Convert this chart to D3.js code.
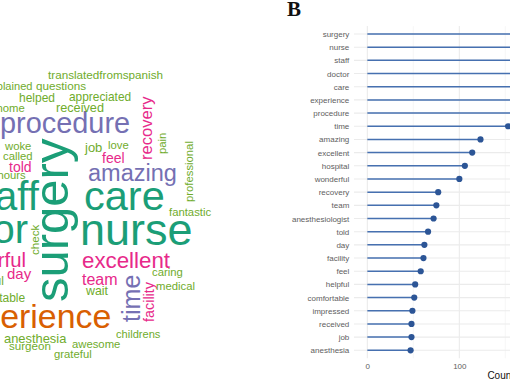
<!DOCTYPE html>
<html>
<head>
<meta charset="utf-8">
<script src="https://cdn.jsdelivr.net/npm/d3@7/dist/d3.min.js"></script>
<style>
  html, body { margin: 0; padding: 0; background: #fff; }
  svg { display: block; }
</style>
</head>
<body>
<svg id="chart" width="510" height="382"></svg>
<script>
// ---------------- DATA ----------------
// Panel B: lollipop chart
const chartWords = ["surgery","nurse","staff","doctor","care","experience","procedure","time",
  "amazing","excellent","hospital","wonderful","recovery","team","anesthesiologist","told",
  "day","facility","feel","helpful","comfortable","impressed","received","job","anesthesia"];
const chartCounts = [290,265,243,228,214,186,172,153,
  123,114,106,100,77,75,72,66,
  62,61,58,52,51,49,48,48,47];
const xTicks = [0, 100, 200];
const xMinorTicks = [50, 150, 250];
const panelLabel = "B";
const xTitle = "Count";

// Panel A: word cloud (words and their frequencies)
const cloudWords = ["surgery","nurse","care","staff","doctor","experience","procedure","time",
  "amazing","excellent","wonderful","recovery","team","day","facility","told","feel","job",
  "anesthesia","received","wait","helpful","comfortable","appreciated","helped",
  "translatedfromspanish","questions","explained","home","woke","called","hours","love",
  "pain","professional","check","fantastic","caring","medical","childrens","surgeon",
  "awesome","grateful"];
const cloudFreq = [300,272,248,237,237,195,160,133,
  122,114,100,74,70,63,59,56,56,49,
  48,47,45,42,42,41,42,
  40,40,36,37,37,37,37,37,
  37,37,39,37,37,37,36,39,
  37,37];

// ---------------- LAYOUT (word placement: baseline x, baseline y, rotation) ----------------
const cloudPlace = [
  [68,302,-90],[80,245,0],[84,210,0],[-36,210,0],[-83,243,0],[-54.5,328,0],[0,133,0],[140,322,-90],
  [88,181,0],[82,268,0],[-62,267,0],[152,160,-90],[82,285,0],[7,279,0],[153.5,322,-90],[9,172,0],[102,163,0],[85,152,0],
  [4,343,0],[56,112,0],[86,295,0],[-31.5,285,0],[-37.5,302,0],[69,101,0],[19,102,0],
  [48,79,0],[36,90,0],[-15,90,0],[-3.5,112,0],[5,150,0],[3,160,0],[-2.5,179,0],[108,149,0],
  [166,154,-90],[192.5,202,-90],[39,255,-90],[169,216,0],[152,276,0],[156,290,0],[116,338,0],[9,350,0],
  [72,348,0],[54,357.5,0]
];

const svg = d3.select("#chart");
svg.append("rect").attr("width", 510).attr("height", 382).attr("fill", "#fff");

// ---------------- WORD CLOUD ----------------
const fontScale = d3.scaleLinear()
  .domain([35, d3.max(cloudFreq)])
  .range([11, 49]);
const colorScale = d3.scaleThreshold()
  .domain([52, 118, 180, 220])
  .range(["#6fac2c", "#E7298A", "#7570B3", "#D95F02", "#1B9E77"]);

const cloudData = cloudWords.map((w, i) => ({ word: w, freq: cloudFreq[i], place: cloudPlace[i] }));
const cloud = svg.append("g").attr("class", "cloud");
cloud.selectAll("text")
  .data(cloudData)
  .join("text")
  .attr("transform", d => `translate(${d.place[0]},${d.place[1]}) rotate(${d.place[2]})`)
  .attr("font-family", "'Liberation Sans', Arial, sans-serif")
  .attr("font-size", d => fontScale(d.freq).toFixed(1) + "px")
  .attr("fill", d => colorScale(d.freq))
  .text(d => d.word);

// ---------------- LOLLIPOP ----------------
const panelLeft = 354, pxPerUnit = 0.92;
const maxC = d3.max(chartCounts);
const pad = 0.05 * maxC;
const x = d3.scaleLinear()
  .domain([-pad, maxC + pad])
  .range([panelLeft, panelLeft + (maxC + 2 * pad) * pxPerUnit]);
const y = d3.scalePoint()
  .domain(chartWords)
  .range([34, 350.3]);
const step = y.step();
const panelTop = y.range()[0] - 0.6 * step;
const panelBottom = y.range()[1] + 0.6 * step;

const plot = svg.append("g").attr("class", "lollipop");

// minor vertical grid
plot.selectAll("line.vminor")
  .data(xMinorTicks)
  .join("line")
  .attr("class", "vminor")
  .attr("x1", d => x(d)).attr("x2", d => x(d))
  .attr("y1", panelTop).attr("y2", panelBottom)
  .attr("stroke", "#f2f2f2").attr("stroke-width", 0.6);
// major vertical grid
plot.selectAll("line.vmajor")
  .data(xTicks)
  .join("line")
  .attr("class", "vmajor")
  .attr("x1", d => x(d)).attr("x2", d => x(d))
  .attr("y1", panelTop).attr("y2", panelBottom)
  .attr("stroke", "#ebebeb").attr("stroke-width", 1.1);
// horizontal grid
plot.selectAll("line.hgrid")
  .data(chartWords)
  .join("line")
  .attr("class", "hgrid")
  .attr("x1", x.range()[0]).attr("x2", x.range()[1])
  .attr("y1", d => y(d)).attr("y2", d => y(d))
  .attr("stroke", "#ebebeb").attr("stroke-width", 1.1);

const lolData = chartWords.map((w, i) => ({ word: w, count: chartCounts[i] }));
plot.selectAll("line.stem")
  .data(lolData)
  .join("line")
  .attr("class", "stem")
  .attr("x1", x(0)).attr("x2", d => x(d.count))
  .attr("y1", d => y(d.word)).attr("y2", d => y(d.word))
  .attr("stroke", "#4670b0").attr("stroke-width", 1.5);
plot.selectAll("circle.dot")
  .data(lolData)
  .join("circle")
  .attr("class", "dot")
  .attr("cx", d => x(d.count))
  .attr("cy", d => y(d.word))
  .attr("r", 3.1)
  .attr("fill", "#2c5596");

// y axis labels
const yAxis = plot.append("g")
  .attr("transform", `translate(${panelLeft},0)`)
  .call(d3.axisLeft(y).tickSize(0).tickPadding(4.7));
yAxis.select(".domain").remove();
yAxis.selectAll("text")
  .attr("font-family", "'Liberation Sans', Arial, sans-serif")
  .attr("font-size", "8px")
  .attr("fill", "#5e5e5e");

// x axis labels
const xAxis = plot.append("g")
  .attr("transform", `translate(0,${panelBottom})`)
  .call(d3.axisBottom(x).tickValues(xTicks).tickSize(0).tickPadding(5.3).tickFormat(d3.format("d")));
xAxis.select(".domain").remove();
xAxis.selectAll("text")
  .attr("font-family", "'Liberation Sans', Arial, sans-serif")
  .attr("font-size", "8px")
  .attr("fill", "#5e5e5e");

// x title
plot.append("text")
  .attr("x", (x.range()[0] + x.range()[1]) / 2)
  .attr("y", 378.5)
  .attr("text-anchor", "middle")
  .attr("font-family", "'Liberation Sans', Arial, sans-serif")
  .attr("font-size", "10px")
  .attr("fill", "#111")
  .text(xTitle);

// panel label
svg.append("text")
  .attr("x", 287)
  .attr("y", 16)
  .attr("font-family", "'Liberation Serif', 'Times New Roman', serif")
  .attr("font-weight", "bold")
  .attr("font-size", "21px")
  .attr("fill", "#111")
  .text(panelLabel);
</script>
</body>
</html>
